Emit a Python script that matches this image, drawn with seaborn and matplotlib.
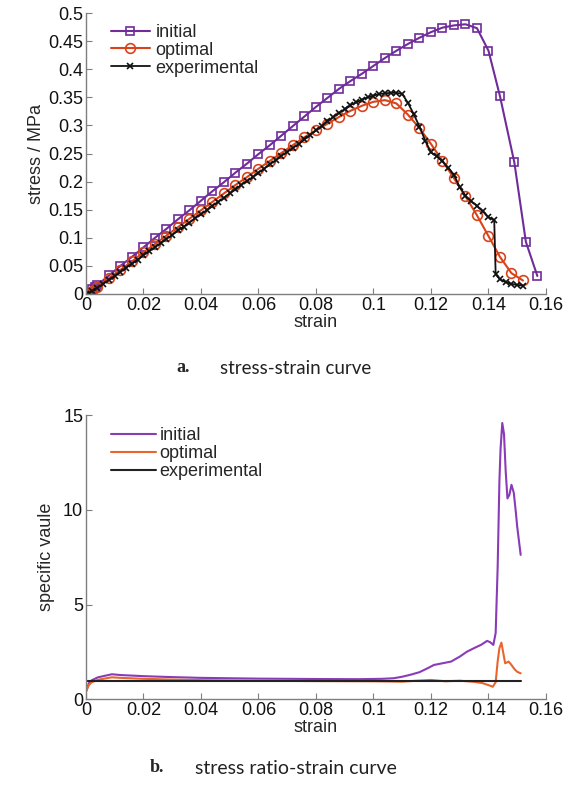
import numpy as np
import pandas as pd
import matplotlib
matplotlib.use("Agg")
import matplotlib.pyplot as plt
import seaborn as sns

# ---------------- data: stress-strain curves ----------------
init_strain = [0, 0.001, 0.002, 0.003, 0.004, 0.008, 0.012, 0.016, 0.020, 0.024, 0.028,
               0.032, 0.036, 0.040, 0.044, 0.048, 0.052, 0.056, 0.060, 0.064, 0.068,
               0.072, 0.076, 0.080, 0.084, 0.088, 0.092, 0.096, 0.100, 0.104, 0.108,
               0.112, 0.116, 0.120, 0.124, 0.128, 0.132, 0.136, 0.140, 0.144, 0.149,
               0.153, 0.157]
init_stress = [0, 0.004, 0.008, 0.012, 0.016, 0.033, 0.050, 0.066, 0.083, 0.100, 0.116,
               0.133, 0.149, 0.166, 0.183, 0.199, 0.216, 0.232, 0.249, 0.265, 0.282,
               0.299, 0.316, 0.333, 0.349, 0.365, 0.379, 0.392, 0.406, 0.420, 0.433,
               0.445, 0.456, 0.466, 0.474, 0.478, 0.480, 0.473, 0.433, 0.352, 0.234,
               0.093, 0.032]

opt_strain = [0, 0.001, 0.002, 0.004, 0.008, 0.012, 0.016, 0.020, 0.024, 0.028, 0.032,
              0.036, 0.040, 0.044, 0.048, 0.052, 0.056, 0.060, 0.064, 0.068, 0.072,
              0.076, 0.080, 0.084, 0.088, 0.092, 0.096, 0.100, 0.104, 0.108, 0.112,
              0.116, 0.120, 0.124, 0.128, 0.132, 0.136, 0.140, 0.144, 0.148, 0.152]
opt_stress = [0, 0.003, 0.006, 0.013, 0.028, 0.043, 0.058, 0.074, 0.089, 0.104, 0.119,
              0.134, 0.149, 0.164, 0.179, 0.194, 0.208, 0.223, 0.237, 0.251, 0.265,
              0.279, 0.291, 0.303, 0.315, 0.326, 0.335, 0.342, 0.345, 0.339, 0.319,
              0.295, 0.267, 0.237, 0.206, 0.174, 0.140, 0.103, 0.066, 0.037, 0.024]

exp_strain = [0, 0.002, 0.004, 0.006, 0.008, 0.010, 0.012, 0.014, 0.016, 0.018, 0.020,
              0.022, 0.024, 0.026, 0.028, 0.030, 0.032, 0.034, 0.036, 0.038, 0.040,
              0.042, 0.044, 0.046, 0.048, 0.050, 0.052, 0.054, 0.056, 0.058, 0.060,
              0.062, 0.064, 0.066, 0.068, 0.070, 0.072, 0.074, 0.076, 0.078, 0.080,
              0.082, 0.084, 0.086, 0.088, 0.090, 0.092, 0.094, 0.096, 0.098, 0.100,
              0.102, 0.104, 0.106, 0.108, 0.110, 0.112, 0.114, 0.116, 0.118, 0.120,
              0.122, 0.124, 0.126, 0.128, 0.130, 0.132, 0.134, 0.136, 0.138, 0.140,
              0.142, 0.1425, 0.144, 0.146, 0.148, 0.150, 0.152]
exp_stress = [0, 0.005, 0.011, 0.018, 0.025, 0.032, 0.039, 0.047, 0.054, 0.061, 0.069,
              0.076, 0.083, 0.091, 0.098, 0.105, 0.113, 0.120, 0.127, 0.135, 0.142,
              0.149, 0.157, 0.164, 0.171, 0.179, 0.186, 0.194, 0.201, 0.208, 0.216,
              0.223, 0.231, 0.238, 0.246, 0.253, 0.260, 0.267, 0.275, 0.283, 0.291,
              0.299, 0.307, 0.315, 0.322, 0.329, 0.336, 0.341, 0.346, 0.350, 0.353,
              0.356, 0.357, 0.358, 0.358, 0.356, 0.340, 0.320, 0.298, 0.273, 0.252,
              0.245, 0.236, 0.225, 0.212, 0.190, 0.175, 0.165, 0.157, 0.147, 0.137,
              0.131, 0.035, 0.026, 0.021, 0.018, 0.016, 0.015]

# ---------------- data: stress ratio-strain curves ----------------
init_r_strain = [0, 0.001, 0.002, 0.004, 0.006, 0.009, 0.012, 0.020, 0.030, 0.040, 0.060,
                 0.080, 0.095, 0.103, 0.107, 0.110, 0.113, 0.116, 0.119, 0.121, 0.124,
                 0.127, 0.130, 0.1325, 0.135, 0.1375, 0.1395, 0.1405, 0.1417, 0.1425,
                 0.1432, 0.1438, 0.1442, 0.1448, 0.1454, 0.1460, 0.1466, 0.1473, 0.1480,
                 0.1488, 0.1495, 0.1500, 0.1512]
init_ratio = [0.4, 0.85, 1.0, 1.15, 1.22, 1.32, 1.28, 1.22, 1.17, 1.13, 1.09,
              1.07, 1.06, 1.08, 1.11, 1.19, 1.30, 1.43, 1.65, 1.81, 1.90,
              1.99, 2.25, 2.51, 2.70, 2.88, 3.08, 3.02, 2.87, 3.5,
              7.0, 11.5, 13.2, 14.58, 14.0, 12.0, 10.6, 10.8, 11.32,
              10.9, 9.9, 9.1, 7.62]

opt_r_strain = [0, 0.001, 0.002, 0.004, 0.006, 0.009, 0.012, 0.020, 0.030, 0.040, 0.060,
                0.080, 0.100, 0.110, 0.115, 0.120, 0.125, 0.130, 0.135, 0.138, 0.1405,
                0.1415, 0.1425, 0.1432, 0.1438, 0.1445, 0.1452, 0.1458, 0.1465, 0.1470,
                0.1478, 0.1490, 0.1500, 0.1512]
opt_ratio = [0.4, 0.75, 0.9, 1.02, 1.08, 1.16, 1.13, 1.08, 1.04, 1.01, 0.98,
             0.96, 0.95, 0.93, 0.98, 1.02, 0.95, 0.98, 0.92, 0.85, 0.72,
             0.66, 0.9, 2.0, 2.7, 2.99, 2.4, 1.9, 1.95, 1.99,
             1.85, 1.6, 1.45, 1.37]

exp_r_strain = [0, 0.1512]
exp_ratio = [0.95, 0.95]

labels = ["initial", "optimal", "experimental"]
x_ticks = [0, 0.02, 0.04, 0.06, 0.08, 0.1, 0.12, 0.14, 0.16]
x_ticklabels = ["0", "0.02", "0.04", "0.06", "0.08", "0.1", "0.12", "0.14", "0.16"]
y1_ticks = [0, 0.05, 0.1, 0.15, 0.2, 0.25, 0.3, 0.35, 0.4, 0.45, 0.5]
y1_ticklabels = ["0", "0.05", "0.1", "0.15", "0.2", "0.25", "0.3", "0.35", "0.4", "0.45", "0.5"]
y2_ticks = [0, 5, 10, 15]
y2_ticklabels = ["0", "5", "10", "15"]

# ---------------- style ----------------
sns.set_style("ticks")
plt.rcParams["font.family"] = ["Liberation Sans", "DejaVu Sans"]

C_INIT = "#6F2C9A"
C_OPT = "#D8431C"
C_EXP = "#111111"
C_INIT2 = "#8A3BB8"
C_OPT2 = "#E8652E"
AX_COL = "#7F7F7F"

fig = plt.figure(figsize=(5.72, 7.85), dpi=100)
ax1 = fig.add_axes([0.1503, 0.6255, 0.8042, 0.3579])
ax2 = fig.add_axes([0.1503, 0.1092, 0.8042, 0.3621])


def style_axis(ax):
    sns.despine(ax=ax)
    for s in ("left", "bottom"):
        ax.spines[s].set_color(AX_COL)
        ax.spines[s].set_linewidth(1.0)
    ax.tick_params(direction="in", length=4, width=0.8, color=AX_COL,
                   labelsize=13, pad=2, labelcolor="#111111")
    ax.set_xticks(x_ticks)
    ax.set_xticklabels(x_ticklabels)
    ax.set_xlim(0, 0.16)
    ax.set_xlabel("strain", fontsize=13, labelpad=0)


# ---- top: stress-strain ----
sns.lineplot(x=init_strain, y=init_stress, ax=ax1, estimator=None, sort=False,
             color=C_INIT, lw=1.5, marker="s", markersize=6, markerfacecolor="none",
             markeredgecolor=C_INIT, markeredgewidth=1.2, label=labels[0])
sns.lineplot(x=opt_strain, y=opt_stress, ax=ax1, estimator=None, sort=False,
             color=C_OPT, lw=1.5, marker="o", markersize=7, markerfacecolor="none",
             markeredgecolor=C_OPT, markeredgewidth=1.2, label=labels[1])
sns.lineplot(x=exp_strain, y=exp_stress, ax=ax1, estimator=None, sort=False,
             color=C_EXP, lw=1.3, marker="x", markersize=4, markeredgewidth=1.2,
             markeredgecolor=C_EXP, label=labels[2])
style_axis(ax1)
ax1.set_ylim(0, 0.5)
ax1.set_yticks(y1_ticks)
ax1.set_yticklabels(y1_ticklabels)
ax1.set_ylabel("stress / MPa", fontsize=13, labelpad=2)
ax1.legend(loc="upper left", bbox_to_anchor=(0.03, 1.0), frameon=False, fontsize=13,
           handlelength=2.2, handletextpad=0.3, labelspacing=0.05, borderaxespad=0.2)

# ---- bottom: stress ratio-strain ----
sns.lineplot(x=init_r_strain, y=init_ratio, ax=ax2, estimator=None, sort=False,
             color=C_INIT2, lw=1.5, label=labels[0])
sns.lineplot(x=opt_r_strain, y=opt_ratio, ax=ax2, estimator=None, sort=False,
             color=C_OPT2, lw=1.5, label=labels[1])
sns.lineplot(x=exp_r_strain, y=exp_ratio, ax=ax2, estimator=None, sort=False,
             color="#222222", lw=1.5, label=labels[2])
style_axis(ax2)
ax2.set_ylim(0, 15)
ax2.set_yticks(y2_ticks)
ax2.set_yticklabels(y2_ticklabels)
ax2.set_ylabel("specific vaule", fontsize=13, labelpad=6)
ax2.legend(loc="upper left", bbox_to_anchor=(0.03, 0.995), frameon=False, fontsize=13,
           handlelength=2.5, handletextpad=0.2, labelspacing=0.05, borderaxespad=0.2)

# ---- captions ----
fig.text(0.309, 1 - 368 / 785, "a.", fontsize=13, fontweight="bold",
         family=["Liberation Serif"], ha="left", va="center")
fig.text(0.385, 1 - 368 / 785, "stress-strain curve", fontsize=13.5,
         family=["Lato", "DejaVu Sans"], ha="left", va="center", color="#222222")
fig.text(0.262, 1 - 768 / 785, "b.", fontsize=13, fontweight="bold",
         family=["Liberation Serif"], ha="left", va="center")
fig.text(0.341, 1 - 768 / 785, "stress ratio-strain curve", fontsize=14,
         family=["Lato", "DejaVu Sans"], ha="left", va="center", color="#222222")

fig.savefig("out.png", dpi=100)
